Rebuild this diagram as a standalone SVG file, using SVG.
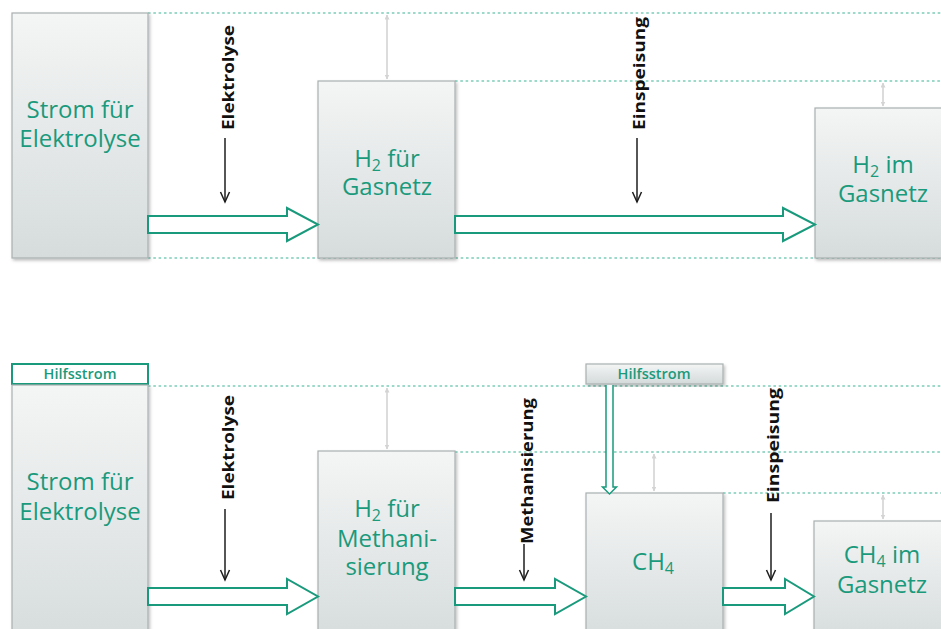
<svg xmlns="http://www.w3.org/2000/svg" width="941" height="629" viewBox="0 0 941 629">
<defs>
<linearGradient id="boxg" x1="0" y1="0" x2="0" y2="1">
<stop offset="0" stop-color="#f4f5f5"/>
<stop offset="1" stop-color="#d6dcdc"/>
</linearGradient>
<linearGradient id="smallg" x1="0" y1="0" x2="0" y2="1">
<stop offset="0" stop-color="#f4f5f5"/>
<stop offset="1" stop-color="#d3d9d9"/>
</linearGradient>
<filter id="sh" x="-10%" y="-10%" width="125%" height="125%">
<feDropShadow dx="1.5" dy="2" stdDeviation="1.5" flood-color="#000" flood-opacity="0.25"/>
</filter>
<marker id="gh" viewBox="0 0 10 10" refX="9" refY="5" markerWidth="5" markerHeight="5" orient="auto-start-reverse" markerUnits="userSpaceOnUse">
<path d="M0,0 L10,5 L0,10 Z" fill="#d4d4d4"/>
</marker>
</defs>
<style>
.box{fill:url(#boxg);stroke:#a8b0b0;stroke-width:1.2;filter:url(#sh)}
.dot{stroke:#7ccdb7;stroke-width:1.3;stroke-dasharray:2.6 2.7;fill:none}
.gray{stroke:#d4d4d4;stroke-width:1.6;fill:none}
.big{fill:#fff;stroke:#1a9a7c;stroke-width:2;stroke-linejoin:miter}
.blk{stroke:#1e1e1e;stroke-width:1.5;fill:none}
.node{font-family:"Open Sans","Noto Sans",sans-serif;font-size:24px;fill:#1a9a7c;text-anchor:middle}
.lbl{font-family:"Open Sans","Noto Sans",sans-serif;font-size:16.5px;font-weight:bold;fill:#111}
.hs{font-family:"Open Sans","Noto Sans",sans-serif;font-size:14.5px;font-weight:600;fill:#1a9a7c;text-anchor:middle}
.sub{font-size:16px;baseline-shift:-22%}
</style>

<g id="guides">
<line class="dot" x1="148" y1="13" x2="941" y2="13"/>
<line class="dot" x1="455" y1="81" x2="941" y2="81"/>
<line class="dot" x1="148" y1="258" x2="941" y2="258"/>
<line class="dot" x1="148" y1="386" x2="941" y2="386"/>
<line class="dot" x1="455" y1="452" x2="941" y2="452"/>
<line class="dot" x1="723" y1="493" x2="941" y2="493"/>
<line class="gray" x1="387" y1="15" x2="387" y2="79" marker-start="url(#gh)" marker-end="url(#gh)"/>
<line class="gray" x1="883" y1="83" x2="883" y2="106" marker-start="url(#gh)" marker-end="url(#gh)"/>
<line class="gray" x1="387" y1="388" x2="387" y2="449" marker-start="url(#gh)" marker-end="url(#gh)"/>
<line class="gray" x1="654" y1="454" x2="654" y2="491" marker-start="url(#gh)" marker-end="url(#gh)"/>
<line class="gray" x1="883" y1="495" x2="883" y2="519" marker-start="url(#gh)" marker-end="url(#gh)"/>
</g>

<g id="n-strom-top">
<rect class="box" x="12" y="13" width="136" height="245"/>
<text class="node" x="80" y="118">Strom für</text>
<text class="node" x="80" y="147">Elektrolyse</text>
</g>
<g id="n-h2-gasnetz">
<rect class="box" x="318" y="81" width="137" height="177"/>
<text class="node" x="387" y="167">H<tspan class="sub">2</tspan> für</text>
<text class="node" x="387" y="195">Gasnetz</text>
</g>
<g id="n-h2-im-gasnetz">
<rect class="box" x="815" y="108" width="140" height="150"/>
<text class="node" x="883" y="173">H<tspan class="sub">2</tspan> im</text>
<text class="node" x="883" y="202">Gasnetz</text>
</g>

<g id="n-hilfsstrom-1">
<rect x="12" y="364" width="136" height="20" fill="#fff" stroke="#1a9a7c" stroke-width="2"/>
<text class="hs" x="80" y="379">Hilfsstrom</text>
</g>
<g id="n-strom-bottom">
<rect class="box" x="12" y="385" width="136" height="260"/>
<text class="node" x="80" y="490">Strom für</text>
<text class="node" x="80" y="520">Elektrolyse</text>
</g>
<g id="n-h2-meth">
<rect class="box" x="318" y="451" width="137" height="190"/>
<text class="node" x="387" y="517">H<tspan class="sub">2</tspan> für</text>
<text class="node" x="387" y="547">Methani-</text>
<text class="node" x="387" y="575">sierung</text>
</g>
<g id="n-hilfsstrom-2">
<rect x="586" y="364" width="137" height="20" fill="url(#smallg)" stroke="#a8b0b0" stroke-width="1.2" filter="url(#sh)"/>
<text class="hs" x="654" y="379">Hilfsstrom</text>
</g>
<g id="n-ch4">
<rect class="box" x="586" y="493" width="137" height="150"/>
<text class="node" x="653" y="570">CH<tspan class="sub">4</tspan></text>
</g>
<g id="n-ch4-gasnetz">
<rect class="box" x="814" y="521" width="140" height="120"/>
<text class="node" x="882" y="563">CH<tspan class="sub">4</tspan> im</text>
<text class="node" x="882" y="593">Gasnetz</text>
</g>

<g id="connectors">
<path class="big" d="M148,216 H287 V208 L318,224.5 L287,241 V233 H148 Z"/>
<path class="big" d="M455,216 H783 V208 L815,224.5 L783,241 V233 H455 Z"/>
<path class="big" d="M148,588 H287 V579 L318,596.5 L287,614 V605 H148 Z"/>
<path class="big" d="M455,588 H555 V579 L586,596.5 L555,614 V605 H455 Z"/>
<path class="big" d="M723,588 H785 V579 L814,596.5 L785,614 V605 H723 Z"/>
<path d="M606,385 V487 H602.5 L609.5,494 L616.5,487 H613 V385" fill="#fff" stroke="#1a9a7c" stroke-width="1.5"/>

<line class="blk" x1="225" y1="138" x2="225" y2="202"/>
<polyline class="blk" points="220.5,192 225,202 229.5,192"/>
<text class="lbl" transform="translate(234,130) rotate(-90)" textLength="105" lengthAdjust="spacingAndGlyphs">Elektrolyse</text>

<line class="blk" x1="637" y1="138" x2="637" y2="202"/>
<polyline class="blk" points="632.5,192 637,202 641.5,192"/>
<text class="lbl" transform="translate(645,130) rotate(-90)" textLength="113" lengthAdjust="spacingAndGlyphs">Einspeisung</text>

<line class="blk" x1="225" y1="509" x2="225" y2="580"/>
<polyline class="blk" points="220.5,570 225,580 229.5,570"/>
<text class="lbl" transform="translate(234,500) rotate(-90)" textLength="105" lengthAdjust="spacingAndGlyphs">Elektrolyse</text>

<line class="blk" x1="524" y1="544" x2="524" y2="580"/>
<polyline class="blk" points="519.5,570 524,580 528.5,570"/>
<text class="lbl" transform="translate(533,544) rotate(-90)" textLength="146" lengthAdjust="spacingAndGlyphs">Methanisierung</text>

<line class="blk" x1="771" y1="513" x2="771" y2="580"/>
<polyline class="blk" points="766.5,570 771,580 775.5,570"/>
<text class="lbl" transform="translate(779,503) rotate(-90)" textLength="115" lengthAdjust="spacingAndGlyphs">Einspeisung</text>
</g>
</svg>
